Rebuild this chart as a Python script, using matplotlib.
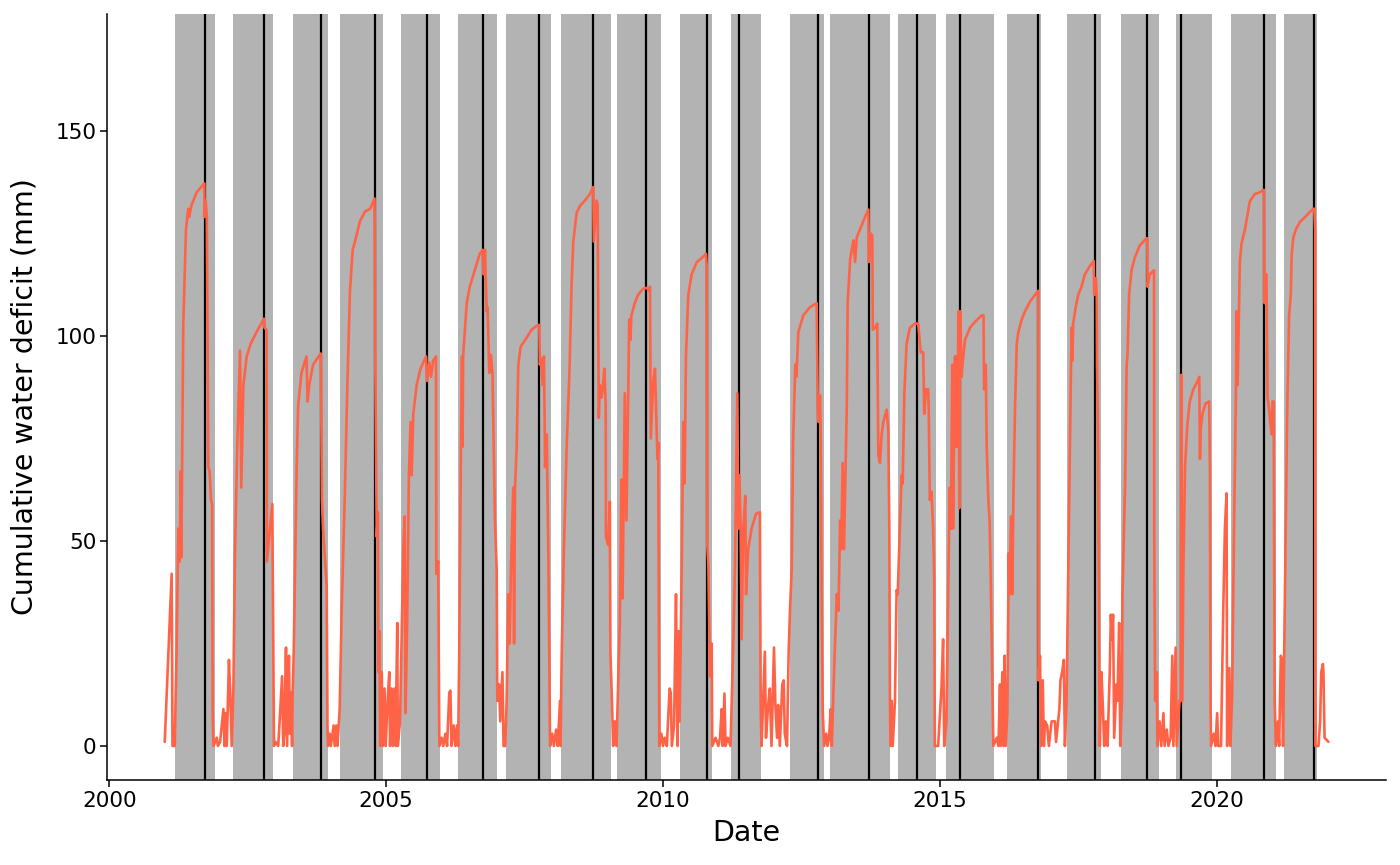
import matplotlib
matplotlib.use("Agg")
import matplotlib.pyplot as plt

# ---- data -------------------------------------------------------------
# growing-season windows (decimal years)
season_start = [2001.185, 2002.233, 2003.316, 2004.166, 2005.267, 2006.297, 2007.164,
                2008.158, 2009.169, 2010.311, 2011.228, 2012.288, 2013.017, 2014.244,
                2015.112, 2016.213, 2017.297, 2018.273, 2019.264, 2020.260, 2021.217]
season_end = [2001.908, 2002.956, 2003.943, 2004.942, 2005.972, 2006.996, 2007.977,
              2009.061, 2009.959, 2010.885, 2011.765, 2012.903, 2014.100, 2014.931,
              2015.973, 2016.822, 2017.906, 2018.960, 2019.917, 2021.068, 2021.808]
# date of maximum deficit (decimal years)
max_date = [2001.727, 2002.798, 2003.822, 2004.792, 2005.732, 2006.754, 2007.766,
            2008.741, 2009.698, 2010.789, 2011.367, 2012.800, 2013.716, 2014.588,
            2015.365, 2016.779, 2017.798, 2018.748, 2019.362, 2020.862, 2021.765]

# cumulative water deficit series (date in decimal years, mm)
cwd_date = [
    # 2001
    2001.00, 2001.125, 2001.14, 2001.18, 2001.215, 2001.245, 2001.27, 2001.288, 2001.30,
    2001.335, 2001.384, 2001.426, 2001.44, 2001.486, 2001.577, 2001.715, 2001.72, 2001.74,
    2001.76, 2001.787, 2001.81, 2001.835, 2001.855, 2001.866, 2001.88,
    2001.94, 2001.96, 2002.0, 2002.06, 2002.08, 2002.10, 2002.12, 2002.16, 2002.18, 2002.21,
    # 2002
    2002.24, 2002.27, 2002.31, 2002.36, 2002.383, 2002.42, 2002.48, 2002.55, 2002.66,
    2002.793, 2002.80, 2002.84, 2002.845, 2002.90, 2002.943, 2002.973,
    2003.00, 2003.05, 2003.12, 2003.14, 2003.16, 2003.19, 2003.21, 2003.244, 2003.26,
    2003.28, 2003.30, 2003.31,
    # 2003
    2003.33, 2003.383, 2003.41, 2003.47, 2003.56, 2003.58, 2003.61, 2003.68, 2003.817,
    2003.825, 2003.84, 2003.86, 2003.925, 2003.94, 2003.95,
    2003.98, 2004.00, 2004.05, 2004.07, 2004.10, 2004.12, 2004.16,
    # 2004
    2004.196, 2004.256, 2004.297, 2004.346, 2004.395, 2004.437, 2004.527, 2004.617,
    2004.71, 2004.79, 2004.795, 2004.80, 2004.83, 2004.85, 2004.86, 2004.88, 2004.89,
    2004.92, 2004.94, 2004.97, 2004.99, 2005.03, 2005.056, 2005.07, 2005.10, 2005.12,
    2005.15, 2005.17, 2005.20, 2005.21, 2005.25,
    # 2005
    2005.31, 2005.333, 2005.35, 2005.38, 2005.41, 2005.44, 2005.46, 2005.49, 2005.55,
    2005.62, 2005.72, 2005.74, 2005.78, 2005.81, 2005.85, 2005.90, 2005.905, 2005.94,
    2005.96,
    2006.00, 2006.03, 2006.07, 2006.10, 2006.14, 2006.16, 2006.18, 2006.22, 2006.25,
    2006.28, 2006.30,
    # 2006
    2006.32, 2006.35, 2006.37, 2006.38, 2006.39, 2006.455, 2006.51, 2006.60, 2006.69,
    2006.743, 2006.76, 2006.785, 2006.815, 2006.83, 2006.862, 2006.89, 2006.92, 2006.965,
    2006.996, 2007.007, 2007.04, 2007.06, 2007.10, 2007.12, 2007.15,
    # 2007
    2007.176, 2007.205, 2007.23, 2007.254, 2007.296, 2007.31, 2007.327, 2007.357,
    2007.387, 2007.43, 2007.51, 2007.628, 2007.72, 2007.766, 2007.775, 2007.80, 2007.827,
    2007.85, 2007.87, 2007.90, 2007.93, 2007.96,
    2008.00, 2008.03, 2008.07, 2008.10, 2008.14, 2008.15,
    # 2008
    2008.17, 2008.21, 2008.26, 2008.31, 2008.35, 2008.38, 2008.44, 2008.50, 2008.59,
    2008.68, 2008.74, 2008.75, 2008.80, 2008.82, 2008.84, 2008.86, 2008.89, 2008.91,
    2008.94, 2008.965, 2008.97, 2009.01, 2009.04, 2009.05, 2009.08, 2009.10, 2009.13,
    2009.16,
    # 2009
    2009.19, 2009.22, 2009.25, 2009.27, 2009.31, 2009.34, 2009.37, 2009.39, 2009.41,
    2009.43, 2009.49, 2009.55, 2009.64, 2009.705, 2009.75, 2009.765, 2009.78, 2009.825,
    2009.855, 2009.886, 2009.90, 2009.915, 2009.933,
    2009.97, 2010.00, 2010.03, 2010.07, 2010.12, 2010.14, 2010.16, 2010.20, 2010.235,
    2010.25, 2010.265, 2010.284, 2010.30,
    # 2010
    2010.338, 2010.367, 2010.39, 2010.415, 2010.457, 2010.518, 2010.61, 2010.70,
    2010.777, 2010.79, 2010.80, 2010.82, 2010.85, 2010.88, 2010.89,
    2010.95, 2011.00, 2011.03, 2011.06, 2011.08, 2011.11, 2011.13, 2011.17, 2011.22,
    # 2011
    2011.27, 2011.30, 2011.32, 2011.342, 2011.36, 2011.38, 2011.403, 2011.42, 2011.45,
    2011.487, 2011.50, 2011.54, 2011.60, 2011.68, 2011.75, 2011.765, 2011.78,
    2011.84, 2011.86, 2011.90, 2011.93, 2011.96, 2012.005, 2012.03, 2012.06, 2012.08,
    2012.11, 2012.155, 2012.18, 2012.20, 2012.24, 2012.27, 2012.294,
    # 2012
    2012.325, 2012.35, 2012.39, 2012.41, 2012.445, 2012.534, 2012.655, 2012.776,
    2012.795, 2012.81, 2012.836, 2012.85, 2012.866, 2012.885, 2012.91,
    2012.95, 2012.97, 2013.00, 2013.03, 2013.05,
    # 2013
    2013.076, 2013.10, 2013.14, 2013.17, 2013.20, 2013.22, 2013.245, 2013.27, 2013.32,
    2013.336, 2013.38, 2013.41, 2013.44, 2013.47, 2013.50, 2013.56, 2013.65, 2013.71,
    2013.72, 2013.75, 2013.78, 2013.79, 2013.83, 2013.87, 2013.89, 2013.92, 2013.95,
    2013.98, 2014.04, 2014.07, 2014.088, 2014.10, 2014.11,
    2014.13, 2014.15, 2014.19, 2014.22, 2014.24,
    # 2014
    2014.31, 2014.33, 2014.36, 2014.40, 2014.46, 2014.55, 2014.61, 2014.655, 2014.70,
    2014.72, 2014.75, 2014.79, 2014.80, 2014.82, 2014.85, 2014.88, 2014.90, 2014.91,
    2014.97, 2015.03, 2015.06, 2015.08, 2015.12,
    # 2015
    2015.155, 2015.18, 2015.20, 2015.226, 2015.24, 2015.275, 2015.29, 2015.30, 2015.32,
    2015.335, 2015.353, 2015.37, 2015.395, 2015.41, 2015.455, 2015.545, 2015.635,
    2015.71, 2015.756, 2015.79, 2015.80, 2015.83, 2015.847, 2015.877, 2015.90, 2015.92,
    2015.937, 2015.967,
    2016.03, 2016.06, 2016.087, 2016.10, 2016.13, 2016.15, 2016.17, 2016.19,
    # 2016
    2016.22, 2016.245, 2016.26, 2016.286, 2016.31, 2016.33, 2016.36, 2016.39, 2016.42,
    2016.48, 2016.54, 2016.63, 2016.72, 2016.78, 2016.782, 2016.81, 2016.83, 2016.86,
    2016.88, 2016.90, 2016.94, 2016.97, 2017.02, 2017.08, 2017.10, 2017.16, 2017.18,
    2017.21, 2017.24, 2017.26,
    # 2017
    2017.29, 2017.32, 2017.35, 2017.38, 2017.395, 2017.41, 2017.455, 2017.50, 2017.56,
    2017.62, 2017.71, 2017.78, 2017.79, 2017.82, 2017.835, 2017.84, 2017.86, 2017.88,
    2017.89, 2017.92, 2017.95, 2017.97, 2018.00, 2018.03, 2018.07, 2018.09, 2018.11,
    2018.13, 2018.15, 2018.19, 2018.21, 2018.24, 2018.26,
    # 2018
    2018.29, 2018.30, 2018.345, 2018.376, 2018.39, 2018.42, 2018.463, 2018.52, 2018.61,
    2018.73, 2018.748, 2018.752, 2018.79, 2018.87, 2018.873, 2018.89, 2018.92, 2018.93,
    2018.97, 2019.00, 2019.04, 2019.06, 2019.10, 2019.13, 2019.17, 2019.20, 2019.22,
    2019.26, 2019.28, 2019.33,
    # 2019
    2019.355, 2019.362, 2019.37, 2019.38, 2019.40, 2019.43, 2019.47, 2019.515, 2019.58,
    2019.64, 2019.687, 2019.70, 2019.71, 2019.745, 2019.80, 2019.866, 2019.88, 2019.89,
    2019.90,
    2019.95, 2019.98, 2020.01, 2020.03, 2020.08, 2020.12, 2020.15, 2020.18, 2020.19,
    2020.23, 2020.25,
    # 2020
    2020.28, 2020.315, 2020.35, 2020.36, 2020.38, 2020.42, 2020.45, 2020.513, 2020.60,
    2020.69, 2020.78, 2020.855, 2020.865, 2020.88, 2020.90, 2020.92, 2020.95, 2020.97,
    2020.995, 2021.01, 2021.03, 2021.05, 2021.07, 2021.11, 2021.13, 2021.16, 2021.18,
    2021.20,
    # 2021
    2021.22, 2021.25, 2021.277, 2021.31, 2021.34, 2021.357, 2021.386, 2021.434,
    2021.506, 2021.60, 2021.69, 2021.747, 2021.765, 2021.78, 2021.785, 2021.84, 2021.87,
    2021.89, 2021.92, 2021.93, 2021.95, 2022.02,
]
cwd_mm = [
    # 2001
    1, 42, 0, 0, 24, 53, 45, 67, 46,
    103, 126, 131, 129, 132, 135, 137.2, 129, 133,
    129, 68, 67, 60, 59, 8, 0,
    2, 0, 1, 9, 0, 8, 0, 21, 14, 0,
    # 2002
    14, 48, 73, 96.4, 63, 88, 95, 98, 101,
    104.2, 102, 101.5, 45, 53, 59, 0,
    1, 0, 17, 0, 3, 24, 0, 22, 3,
    13, 0, 13,
    # 2003
    23, 68, 83, 91, 95, 84, 88, 93, 95.7,
    85, 60, 53, 39, 4, 0,
    3, 0, 5, 0, 5, 0, 9,
    # 2004
    33, 63, 87, 111, 121, 123, 128, 130.3,
    131, 133.5, 125, 98, 51, 57, 18, 28, 0,
    18, 0, 14, 0, 12, 18, 0, 14, 0,
    14, 0, 30, 0, 6,
    # 2005
    48, 56, 8, 31, 66, 79, 66, 81, 88,
    92, 95, 89, 93.5, 90, 94, 95, 42, 45,
    0,
    2, 0, 3, 0, 13, 13.5, 0, 5, 0,
    5, 0,
    # 2006
    23, 73, 95, 73, 95, 108, 112, 116, 120,
    121, 115, 121, 106, 107, 91, 95.4, 91, 55,
    43, 11, 15, 6, 18, 0, 0,
    # 2007
    11, 37, 25, 43, 63, 25, 63, 73,
    93, 97.4, 99, 101.5, 102.5, 102.7, 93, 94.5, 88,
    95, 68, 76, 46, 0,
    3, 0, 4, 0, 11, 0,
    # 2008
    22, 48, 73, 91, 113, 123, 130, 131.7, 133,
    134.6, 136.3, 123, 133, 132, 80, 88, 85, 87,
    92, 83, 51, 49, 59.6, 23, 10, 0, 6,
    0,
    # 2009
    15, 30, 65, 36, 86, 55, 85, 104, 99,
    105, 108, 110, 111.5, 111.7, 111, 112, 75, 89,
    92, 77, 70, 74, 0,
    3, 0, 2, 0, 14, 13, 0, 5, 37,
    15, 0, 28, 6,
    # 2010
    43, 79, 64, 95, 110, 115, 118, 119,
    120, 117, 49, 44, 17, 25, 0,
    2, 0, 2, 9, 0, 12.8, 0, 2, 0,
    # 2011
    25, 43, 63, 86, 53, 66, 53, 26, 53,
    61, 37, 48, 53, 56.6, 57, 9, 0,
    23, 2, 10, 14, 0, 24, 10, 2, 10,
    0, 15, 16, 3, 0, 23, 33,
    # 2012
    43, 74, 93, 90, 101, 105, 107, 108,
    83, 79, 85.5, 75.6, 35, 9, 0,
    3, 0, 2, 9, 0,
    # 2013
    12, 22, 37, 33, 55, 48, 69, 48, 83,
    108, 118.5, 121, 123.3, 118, 124, 126, 129, 130.8,
    118, 125, 124.5, 101.5, 102, 103, 71, 69, 76,
    79, 82, 77, 53, 11, 0,
    11, 0, 11, 38, 37,
    # 2014
    66, 64, 86, 98, 102, 103, 103, 96, 96,
    81, 87, 87, 82, 60, 62, 53, 41, 0,
    0, 14, 26, 0, 6,
    # 2015
    41, 63, 53, 93, 53, 95, 73, 95, 73,
    106, 58, 106, 90, 93, 99, 102, 103.4,
    104.4, 105, 105, 87, 93, 73, 60, 55, 41,
    26, 0,
    2, 0, 15, 0, 18, 0, 22, 0,
    # 2016
    8, 47, 37, 56, 37, 61, 83, 98, 101,
    104, 106, 108.4, 110, 111, 16, 22, 0, 16,
    0, 6, 5, 0, 6, 6, 1, 9, 16,
    18, 21, 0,
    # 2017
    11, 43, 73, 102, 94, 103, 107, 110, 112,
    115, 117, 118.3, 110, 114, 110, 93, 73, 16,
    0, 18, 8, 0, 6, 0, 18, 32, 26,
    32, 2, 15, 11, 30, 0,
    # 2018
    11, 37, 63, 93, 95, 110, 116, 119, 122,
    123.8, 123.8, 112, 115, 116, 53, 11, 18, 0,
    6, 0, 8, 0, 4, 0, 2, 22, 0,
    24, 0, 11,
    # 2019
    11, 90.5, 11, 11, 43, 68, 78, 84, 87,
    88.5, 90, 70, 77, 81, 83.5, 84, 66, 11,
    0,
    3, 0, 8, 0, 0, 33, 53, 61.6, 0,
    19, 0,
    # 2020
    12, 53, 87, 106, 88, 118, 122.5, 126, 132.8,
    134.6, 135, 135.6, 108, 114.5, 115, 85, 82, 79,
    76, 84, 84, 11, 0, 6, 0, 22, 21,
    0,
    # 2021
    22, 53, 83, 105, 110, 120, 124, 126,
    127.8, 129, 130.3, 131, 131, 126, 0, 0, 6,
    18, 20, 18, 2, 1,
]

x_ticks = [2000, 2005, 2010, 2015, 2020]
y_ticks = [0, 50, 100, 150]

# ---- figure -----------------------------------------------------------
plt.rcParams['font.family'] = ['DejaVu Sans']
fig = plt.figure(figsize=(14, 8.65), dpi=100)
ax = fig.add_axes([107 / 1400, 85 / 865, (1386 - 107) / 1400, (780 - 14) / 865])

for s, e in zip(season_start, season_end):
    ax.axvspan(s, e, color='#B3B3B3', lw=0, zorder=1)
for d in max_date:
    ax.axvline(d, color='black', lw=1.6, zorder=2)
ax.plot(cwd_date, cwd_mm, color='#FF6347', lw=1.9, zorder=3,
        solid_joinstyle='round', solid_capstyle='round')

ax.set_xlim(1999.957, 2023.06)
ax.set_ylim(-8.3, 178.5)
ax.set_xticks(x_ticks)
ax.set_xticklabels([str(t) for t in x_ticks])
ax.set_yticks(y_ticks)
ax.set_yticklabels([str(t) for t in y_ticks])

for side in ['top', 'right']:
    ax.spines[side].set_visible(False)
for side in ['left', 'bottom']:
    ax.spines[side].set_linewidth(1.1)
    ax.spines[side].set_color('black')
ax.tick_params(axis='both', length=4.7, width=1.1, color='black',
               labelsize=15.5, labelcolor='black', pad=3)

ax.set_xlabel('Date', fontsize=20.5, labelpad=6)
ax.set_ylabel('Cumulative water deficit (mm)', fontsize=20.5, labelpad=12)

fig.savefig('out.png', dpi=100, facecolor='white')
